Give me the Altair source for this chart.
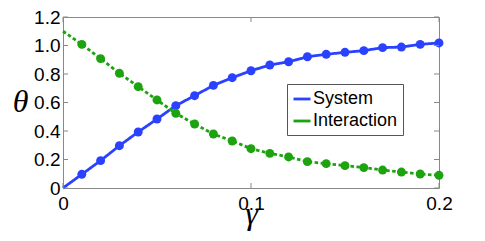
import altair as alt
import pandas as pd

gamma = [0.0, 0.01, 0.02, 0.03, 0.04, 0.05, 0.06, 0.07, 0.08, 0.09, 0.10,
         0.11, 0.12, 0.13, 0.14, 0.15, 0.16, 0.17, 0.18, 0.19, 0.20]
system = [0.0, 0.096, 0.192, 0.297, 0.393, 0.484, 0.578, 0.648, 0.720, 0.774, 0.823,
          0.863, 0.886, 0.921, 0.938, 0.952, 0.964, 0.985, 0.989, 1.008, 1.018]
interaction = [1.10, 1.008, 0.908, 0.805, 0.711, 0.618, 0.524, 0.449, 0.379, 0.330, 0.276,
               0.243, 0.218, 0.185, 0.171, 0.157, 0.143, 0.126, 0.112, 0.098, 0.089]
series_names = ["System", "Interaction"]
colors = ["#2a42ff", "#1ca30f"]
x_ticks = [0, 0.1, 0.2]
y_ticks = [0, 0.2, 0.4, 0.6, 0.8, 1.0, 1.2]

W, H = 376, 171

rows = []
for g, s, i in zip(gamma, system, interaction):
    rows.append({"gamma": g, "theta": s, "series": "System"})
    rows.append({"gamma": g, "theta": i, "series": "Interaction"})
df = pd.DataFrame(rows)
pts = df[df["gamma"] > 0].copy()
pts["s2"] = pts["series"]

xs = alt.Scale(domain=[0, 0.2], nice=False)
ys = alt.Scale(domain=[0, 1.2], nice=False)

x_axis = alt.Axis(
    values=x_ticks, labelExpr="datum.value == 0 ? '0' : format(datum.value, '.1f')",
    ticks=False, domain=False, grid=False, labelFontSize=19, labelFont="Liberation Sans",
    labelColor="#000", labelPadding=6, labelFlush=False, labelOverlap=False,
    title="γ", titleFont="Liberation Serif",
    titleFontStyle="italic", titleFontWeight="normal", titleFontSize=32,
    titleColor="#000", titleY=35, titleBaseline="alphabetic")
y_axis = alt.Axis(
    values=y_ticks, labelExpr="datum.value == 0 ? '0' : format(datum.value, '.1f')",
    ticks=False, domain=False, grid=False, labelFontSize=19, labelFont="Liberation Sans",
    labelColor="#000", labelPadding=3, labelFlush=False, labelOverlap=False,
    title="θ", titleFont="Liberation Serif",
    titleFontStyle="italic", titleFontWeight="normal", titleFontSize=32,
    titleColor="#000", titleAngle=0, titleX=-43, titleY=84, titleAlign="center",
    titleBaseline="middle")

lines = alt.Chart(df).mark_line(strokeWidth=2.8, strokeCap="butt").encode(
    x=alt.X("gamma:Q", scale=xs, axis=x_axis),
    y=alt.Y("theta:Q", scale=ys, axis=y_axis),
    color=alt.Color("series:N", scale=alt.Scale(domain=series_names, range=colors),
                    legend=alt.Legend(title=None, orient="none", legendX=224, legendY=67,
                                      fillColor="white", strokeColor="#555", padding=5,
                                      labelFontSize=18, labelFont="Liberation Sans",
                                      labelColor="#000", symbolType="stroke",
                                      symbolSize=289, symbolStrokeWidth=2.8,
                                      labelOffset=1, rowPadding=3)),
    strokeDash=alt.StrokeDash("series:N", scale=alt.Scale(domain=series_names,
                                                          range=[[1, 0], [3.5, 2.5]]),
                              legend=None),
)

points = alt.Chart(pts).mark_point(filled=True, opacity=1, size=80, shape="circle").encode(
    x=alt.X("gamma:Q", scale=xs, axis=x_axis),
    y=alt.Y("theta:Q", scale=ys, axis=y_axis),
    color=alt.Color("s2:N", scale=alt.Scale(domain=series_names, range=colors), legend=None),
)

xt = pd.DataFrame({"v": x_ticks})
yt = pd.DataFrame({"v": y_ticks})
tick_col = "#888"
xb = alt.Chart(xt).mark_rule(color=tick_col, strokeWidth=1).encode(
    x=alt.X("v:Q", scale=xs, axis=x_axis), y=alt.value(H), y2=alt.value(H - 5))
xtp = alt.Chart(xt).mark_rule(color=tick_col, strokeWidth=1).encode(
    x=alt.X("v:Q", scale=xs, axis=x_axis), y=alt.value(0), y2=alt.value(5))
yl = alt.Chart(yt).mark_rule(color=tick_col, strokeWidth=1).encode(
    y=alt.Y("v:Q", scale=ys, axis=y_axis), x=alt.value(0), x2=alt.value(5))
yr = alt.Chart(yt).mark_rule(color=tick_col, strokeWidth=1).encode(
    y=alt.Y("v:Q", scale=ys, axis=y_axis), x=alt.value(W), x2=alt.value(W - 5))

chart = alt.layer(lines, points, xb, xtp, yl, yr).resolve_scale(color="independent").properties(
    width=W, height=H,
    autosize=alt.AutoSizeParams(type="none"),
    padding={"left": 55, "top": 9, "right": 30, "bottom": 45},
).configure_view(stroke="#888", strokeWidth=1)

chart.save("out.html", embed_options={"renderer": "svg", "actions": False})
